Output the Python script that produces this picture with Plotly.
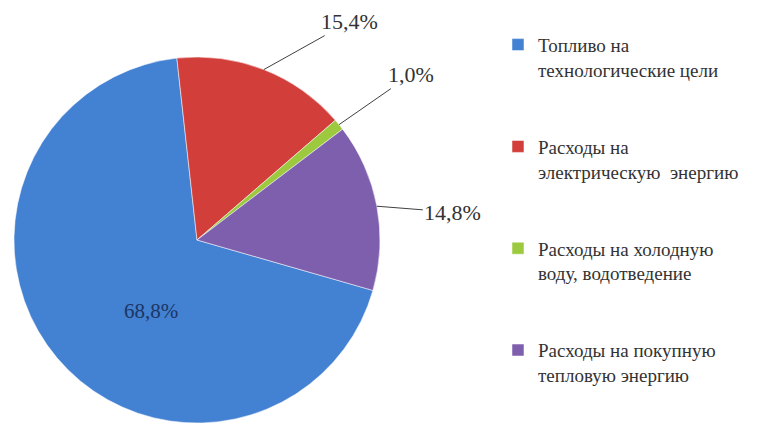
import math
import plotly.graph_objects as go

# data
categories = [
    "Топливо на<br>технологические цели",
    "Расходы на<br>электрическую  энергию",
    "Расходы на холодную<br>воду, водотведение",
    "Расходы на покупную<br>тепловую энергию",
]
shares = [68.8, 15.4, 1.0, 14.8]
colors = ["#4381D2", "#D23F3B", "#9CC93E", "#7E5FAE"]

SERIF = "Liberation Serif"

W, H = 779, 423
# page body adds an 8px margin, so paper coords sit 8px right/down
cx, cy, r = 197 - 8, 240 - 8, 183
rotation = 106


def fmt(v):
    return f"{v:.1f}%".replace(".", ",")


# blank lines pad the legend entries apart (not needed after the last one)
legend_labels = [c + "<br> <br> " for c in categories[:-1]] + [categories[-1]]

fig = go.Figure(go.Pie(
    labels=legend_labels,
    values=shares,
    sort=False,
    direction="clockwise",
    rotation=rotation,
    marker=dict(colors=colors, line=dict(color="rgba(255,255,255,0.5)", width=1)),
    textinfo="none",
    domain=dict(x=[(cx - r) / W, (cx + r) / W], y=[(H - cy - r) / H, (H - cy + r) / H]),
    hoverinfo="label+percent",
))

# labels: outside ones get a leader line from the slice edge
offsets = {1: (86, -48), 2: (72, -50), 3: (76, 6)}
total = sum(shares)
start = rotation
for i, v in enumerate(shares):
    span = 360 * v / total
    mid = math.radians(start + span / 2)
    start += span
    if i == 0:
        fig.add_annotation(
            x=cx / W, y=1 - cy / H, xref="paper", yref="paper",
            xanchor="center", yanchor="middle",
            text=fmt(v), showarrow=False, xshift=-46, yshift=-71,
            font=dict(family=SERIF, size=21, color="#1C3663"),
        )
        continue
    px = cx + r * math.sin(mid)
    py = cy - r * math.cos(mid)
    ax, ay = offsets[i]
    fig.add_annotation(
        x=px / W, y=1 - py / H, xref="paper", yref="paper",
        text=fmt(v),
        showarrow=True, arrowhead=0, arrowwidth=1, arrowcolor="#404040",
        ax=ax, ay=ay,
        font=dict(family=SERIF, size=22, color="#333333"),
    )

fig.update_layout(
    width=W,
    height=H,
    margin=dict(l=0, r=0, t=0, b=0),
    paper_bgcolor="white",
    font=dict(family=SERIF),
    showlegend=True,
    legend=dict(
        x=0.629, y=0.958, xanchor="left", yanchor="top",
        valign="top",
        font=dict(family=SERIF, size=19, color="#333333"),
        itemwidth=30,
    ),
)

fig.write_html("out.html")
